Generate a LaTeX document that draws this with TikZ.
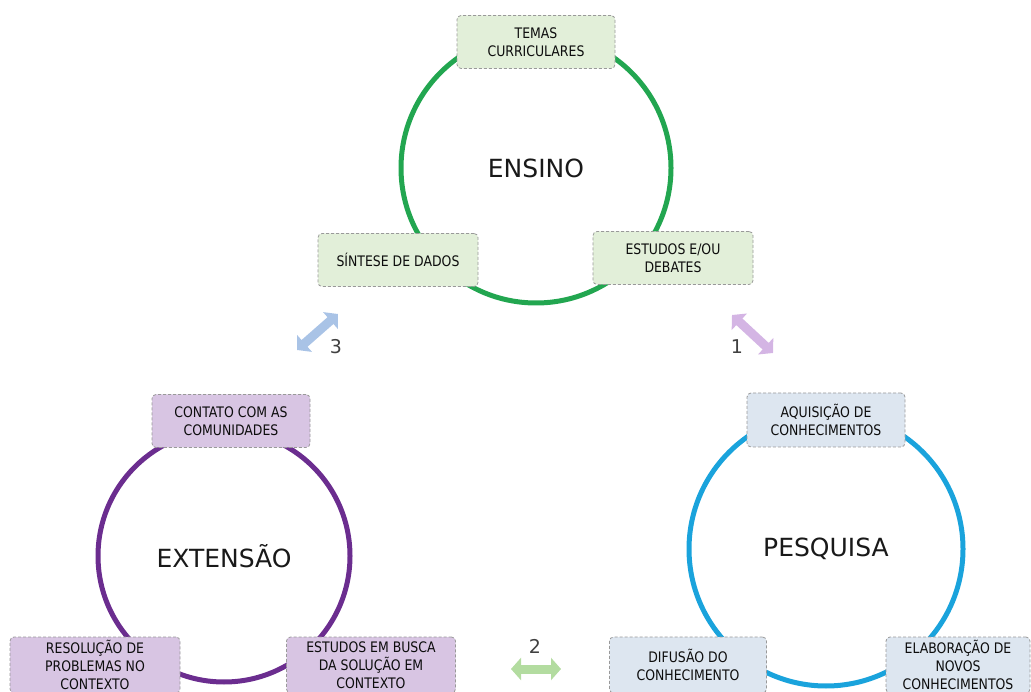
\documentclass[tikz,border=0pt]{standalone}
\usepackage{fontspec}
\setmainfont{DejaVu Sans}
\newfontfamily\caixafont[FakeStretch=0.86]{DejaVu Sans}
\usetikzlibrary{arrows.meta}

\definecolor{verde}{HTML}{22A650}
\definecolor{roxo}{HTML}{6B2D8F}
\definecolor{azul}{HTML}{1AA3DC}
\definecolor{verdeclaro}{HTML}{E2EFD9}
\definecolor{roxoclaro}{HTML}{D8C5E3}
\definecolor{azulclaro}{HTML}{DDE6F0}
\definecolor{setaazul}{HTML}{A9C3E6}
\definecolor{setaroxa}{HTML}{D4B5E4}
\definecolor{setaverde}{HTML}{B3DCA0}

\tikzset{
  anel/.style={circle, draw=#1, line width=5pt, text=black!90,
    font=\fontsize{25}{30}\selectfont},
  caixa/.style={draw=black!40, line width=0.8pt, dash pattern=on 3pt off 2pt, rounded corners=4pt,
    fill=#1, align=center, minimum width=158pt, minimum height=53pt, inner sep=2pt,
    text=black!95, font=\caixafont\fontsize{14.5}{18}\selectfont},
  seta/.style={draw=#1, line width=9pt,
    {Triangle[width=22pt,length=10pt]}-{Triangle[width=22pt,length=10pt]}},
  numero/.style={text=black!75, font=\fontsize{19}{22}\selectfont}
}

\begin{document}
\begin{tikzpicture}[x=1pt,y=-1pt]
   \useasboundingbox (0,0) rectangle (1031,692);
   \clip (0,0) rectangle (1031,692);
   % os tres aneis
   \node[anel=verde, minimum size=270pt] (ensino) at (536,168) {ENSINO};
   \node[anel=roxo, minimum size=252pt] (extensao) at (224,556) {EXTENSÃO};
   \node[anel=azul, minimum size=274pt] (pesquisa) at (826,549) {PESQUISA};
   % ensino
   \node[caixa=verdeclaro] (temas) at (536,42) {TEMAS\\CURRICULARES};
   \node[caixa=verdeclaro, minimum width=160pt] (sintese) at (398,260) {SÍNTESE DE DADOS};
   \node[caixa=verdeclaro, minimum width=160pt] (debates) at (673,258) {ESTUDOS E/OU\\DEBATES};
   % extensao
   \node[caixa=roxoclaro] (contato) at (231,421) {CONTATO COM AS\\COMUNIDADES};
   \node[caixa=roxoclaro, minimum width=170pt, minimum height=56pt] (resolucao) at (95,665)
     {RESOLUÇÃO DE\\PROBLEMAS NO\\CONTEXTO};
   \node[caixa=roxoclaro, minimum width=169pt, minimum height=56pt] (busca) at (371,665)
     {ESTUDOS EM BUSCA\\DA SOLUÇÃO EM\\CONTEXTO};
   % pesquisa
   \node[caixa=azulclaro, minimum height=54pt] (aquisicao) at (826,420) {AQUISIÇÃO DE\\CONHECIMENTOS};
   \node[caixa=azulclaro, minimum width=157pt, minimum height=56pt] (difusao) at (688,665)
     {DIFUSÃO DO\\CONHECIMENTO};
   \node[caixa=azulclaro, minimum width=144pt, minimum height=56pt] (elaboracao) at (958,665)
     {ELABORAÇÃO DE\\NOVOS\\CONHECIMENTOS};
   % setas entre os aneis
   \coordinate (s1a) at (732,315);
   \coordinate (s1b) at (773,353);
   \coordinate (s2a) at (511,669);
   \coordinate (s2b) at (561,669);
   \coordinate (s3a) at (297,350);
   \coordinate (s3b) at (338,314);
   \draw[seta=setaroxa] (s1a) -- (s1b);
   \draw[seta=setaverde] (s2a) -- (s2b);
   \draw[seta=setaazul] (s3a) -- (s3b);
   \node[numero] (n1) at (737,347) {1};
   \node[numero] (n2) at (535,646) {2};
   \node[numero] (n3) at (336,347) {3};
\end{tikzpicture}
\end{document}
